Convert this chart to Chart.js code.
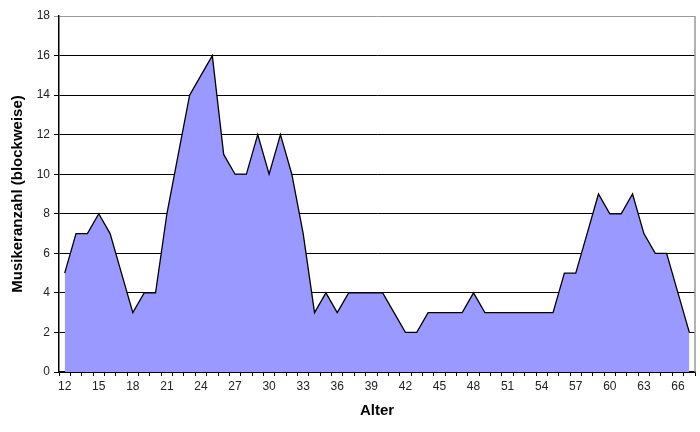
<!DOCTYPE html>
<html>
<head>
<meta charset="utf-8">
<script src="https://cdn.jsdelivr.net/npm/chart.js@4"></script>
<style>
  html, body { margin: 0; padding: 0; background: #fff; }
  #wrap { width: 700px; height: 432px; }
</style>
</head>
<body>
<div id="wrap"><canvas id="chart" width="700" height="432"></canvas></div>
<script>
// Alter (Kategorien) und Musikeranzahl je Alter
const alter = [12, 13, 14, 15, 16, 17, 18, 19, 20, 21, 22, 23, 24, 25, 26, 27, 28, 29, 30, 31,
               32, 33, 34, 35, 36, 37, 38, 39, 40, 41, 42, 43, 44, 45, 46, 47, 48, 49, 50, 51,
               52, 53, 54, 55, 56, 57, 58, 59, 60, 61, 62, 63, 64, 65, 66, 67];
const musiker = [5, 7, 7, 8, 7, 5, 3, 4, 4, 8, 11, 14, 15, 16, 11, 10, 10, 12, 10, 12,
                 10, 7, 3, 4, 3, 4, 4, 4, 4, 3, 2, 2, 3, 3, 3, 3, 4, 3, 3, 3,
                 3, 3, 3, 3, 5, 5, 7, 9, 8, 8, 9, 7, 6, 6, 4, 2];
const yMax = 18;
const yStep = 2;

const FONT = "'Liberation Sans', Arial, sans-serif";

// grauer Rand rechts am Diagramm
const rightBorder = {
  id: 'rightBorder',
  afterDraw(chart) {
    const { ctx, chartArea: a } = chart;
    ctx.save();
    ctx.strokeStyle = '#9a9a9a';
    ctx.lineWidth = 1.5;
    ctx.beginPath();
    ctx.moveTo(a.right, a.top);
    ctx.lineTo(a.right, a.bottom);
    ctx.stroke();
    ctx.restore();
  }
};

new Chart(document.getElementById('chart'), {
  type: 'line',
  data: {
    labels: alter.map(String),
    datasets: [{
      data: musiker,
      borderColor: '#000',
      borderWidth: 1.3,
      backgroundColor: '#9999ff',
      fill: 'origin',
      tension: 0,
      pointRadius: 0,
    }]
  },
  options: {
    responsive: false,
    animation: false,
    layout: { padding: { left: 0, right: 5, top: 16, bottom: 0 } },
    plugins: { legend: { display: false }, tooltip: { enabled: false } },
    scales: {
      x: {
        offset: true,
        afterFit: s => { s.height = 60; },
        border: { color: '#000', width: 1.5 },
        grid: { offset: true, drawOnChartArea: false, drawTicks: true, tickLength: 4, color: '#000', lineWidth: 1 },
        ticks: {
          autoSkip: false, maxRotation: 0, padding: 3, color: '#222',
          font: { family: FONT, size: 12 },
          callback: (v, i) => (i % 3 === 0 ? alter[i] : '')
        },
        title: { display: true, text: 'Alter', color: '#000', font: { family: FONT, size: 15, weight: 'bold' }, padding: { top: 0, bottom: 12 } }
      },
      y: {
        min: 0, max: yMax,
        afterFit: s => { s.width = 59; },
        border: { color: '#000', width: 1.5 },
        grid: {
          color: c => (c.tick && c.tick.value === yMax ? '#9a9a9a' : '#000'),
          lineWidth: 1, tickLength: 5, drawTicks: true
        },
        ticks: { stepSize: yStep, padding: 4, color: '#222', font: { family: FONT, size: 12 } },
        title: { display: true, text: 'Musikeranzahl (blockweise)', color: '#000', font: { family: FONT, size: 15, weight: 'bold' }, padding: { top: 9, bottom: 0 } }
      }
    }
  },
  plugins: [rightBorder]
});
</script>
</body>
</html>
